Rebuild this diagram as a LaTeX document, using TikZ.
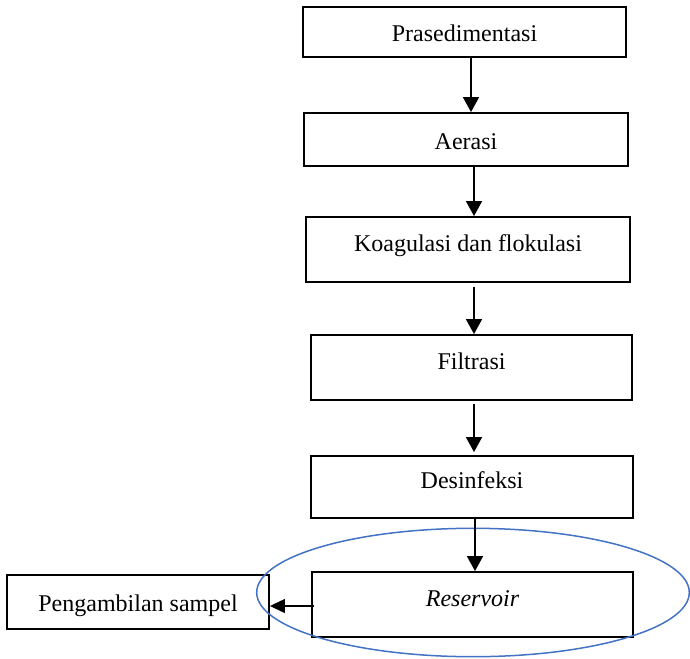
\documentclass[tikz,border=0pt]{standalone}
\usepackage{fontspec}
\setmainfont{Liberation Serif}
\usetikzlibrary{arrows.meta,shapes.geometric}
\definecolor{ringblue}{RGB}{68,114,196}
\begin{document}
\begin{tikzpicture}[x=1pt,y=-1pt,
  stepbox/.style={draw,rectangle,line width=1.9pt,inner sep=0pt,
    font=\fontsize{24}{28}\selectfont,text height=19pt,text depth=0pt},
  lowtext/.style={text height=17pt,text depth=14pt},
  flow/.style={line width=1.8pt,-{Triangle[width=16pt,length=15pt]}},
  sideflow/.style={line width=1.3pt,-{Triangle[width=14pt,length=15pt]}},
  ring/.style={draw=ringblue,line width=1.5pt,ellipse,inner sep=0pt}]
  \useasboundingbox (0,0) rectangle (690,658);

  % process chain
  \node[stepbox,minimum width=323pt,minimum height=50pt] (pra) at (464.5,32) {Prasedimentasi};
  \node[stepbox,minimum width=324pt,minimum height=53pt] (aer) at (466,139.5) {Aerasi};
  \node[stepbox,lowtext,minimum width=324pt,minimum height=65pt] (koa) at (468,249.5) {Koagulasi dan flokulasi};
  \node[stepbox,lowtext,minimum width=321pt,minimum height=65pt] (fil) at (471.5,367.5) {Filtrasi};
  \node[stepbox,lowtext,minimum width=322pt,minimum height=62pt] (des) at (472,487) {Desinfeksi};
  \node[stepbox,lowtext,minimum width=321pt,minimum height=65pt] (res) at (472.5,604.5) {\itshape Reservoir};
  \node[stepbox,minimum width=262pt,minimum height=54pt] (samp) at (138,602) {Pengambilan sampel};

  % highlight around the reservoir
  \node[ring,minimum width=432.6pt,minimum height=128.4pt] (hl) at (473,592.5) {};

  % connectors
  \draw[flow] ([xshift=6.5pt]pra.south) -- ([xshift=5pt]aer.north);
  \draw[flow] ([xshift=8pt]aer.south) -- ([xshift=6pt]koa.north);
  \draw[flow] ([xshift=6pt,yshift=-4pt]koa.south) -- ([xshift=2.5pt]fil.north);
  \draw[flow] ([xshift=2.5pt,yshift=-3pt]fil.south) -- ([xshift=2pt,yshift=3pt]des.north);
  \draw[flow] ([xshift=3pt]des.south) -- ([xshift=2.5pt]res.north);
  \draw[sideflow] ([xshift=3pt,yshift=-1.5pt]res.west) -- ([yshift=-4pt]samp.east);
\end{tikzpicture}
\end{document}
